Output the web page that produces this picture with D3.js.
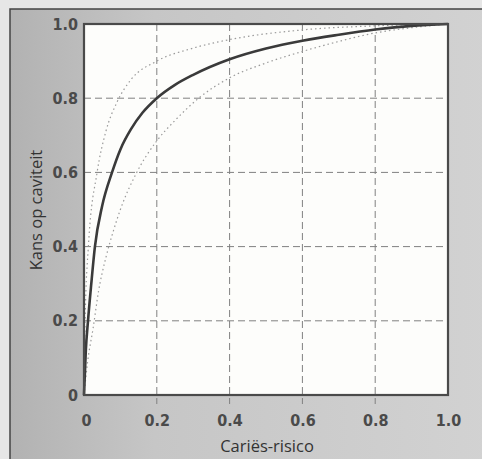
<!DOCTYPE html>
<html>
<head>
<meta charset="utf-8">
<script src="https://cdn.jsdelivr.net/npm/d3@7"></script>
<style>
  body { margin: 0; background: #e6e6e6; }
  svg { display: block; }
</style>
</head>
<body>
<svg id="chart" width="482" height="459"></svg>
<script>
// ROC-like curves: risk (x) vs chance of cavity (y)
var ticks = [0, 0.2, 0.4, 0.6, 0.8, 1.0];
var tickLabels = ["0", "0.2", "0.4", "0.6", "0.8", "1.0"];

var mainX = [0, 0.005, 0.011, 0.02, 0.03, 0.05, 0.077, 0.1, 0.13, 0.16, 0.2, 0.25, 0.3, 0.4, 0.5, 0.6, 0.7, 0.8, 0.9, 1];
var mainY = [0, 0.12, 0.2, 0.3, 0.4, 0.51, 0.6, 0.662, 0.718, 0.76, 0.8, 0.836, 0.863, 0.905, 0.934, 0.955, 0.971, 0.985, 0.995, 1];

var upperX = [0, 0.003, 0.012, 0.036, 0.06, 0.091, 0.129, 0.2, 0.3, 0.4, 0.6, 0.8, 1];
var upperY = [0, 0.2, 0.4, 0.6, 0.71, 0.79, 0.85, 0.9, 0.935, 0.958, 0.984, 0.995, 1];

var lowerX = [0, 0.01, 0.025, 0.04, 0.06, 0.08, 0.1, 0.145, 0.2, 0.25, 0.315, 0.4, 0.5, 0.6, 0.7, 0.8, 0.9, 1];
var lowerY = [0, 0.09, 0.18, 0.28, 0.37, 0.44, 0.5, 0.6, 0.685, 0.74, 0.8, 0.855, 0.895, 0.926, 0.953, 0.976, 0.99, 1];

function pairs(xs, ys) { return xs.map(function(d, i) { return {x: d, y: ys[i]}; }); }

var svg = d3.select("#chart");
var margin = {top: 24, left: 84, right: 34, bottom: 64};
var width = 482 - margin.left - margin.right,
    height = 459 - margin.top - margin.bottom;

var defs = svg.append("defs");
var grad = defs.append("linearGradient").attr("id", "bg").attr("x1", 0).attr("x2", 1).attr("y1", 0).attr("y2", 0);
grad.append("stop").attr("offset", "0%").attr("stop-color", "#b2b2b2");
grad.append("stop").attr("offset", "30%").attr("stop-color", "#c6c6c6");
grad.append("stop").attr("offset", "100%").attr("stop-color", "#d2d2d2");

// outer frame (photo crop: only left and top borders visible)
svg.append("rect").attr("x", 10).attr("y", 9).attr("width", 480).attr("height", 460)
    .attr("fill", "url(#bg)").attr("stroke", "#444").attr("stroke-width", 1.5);

var x = d3.scaleLinear().domain([0, 1]).range([0, width]);
var y = d3.scaleLinear().domain([0, 1]).range([height, 0]);

var g = svg.append("g").attr("transform", "translate(" + margin.left + "," + margin.top + ")");

g.append("rect").attr("width", width).attr("height", height).attr("fill", "#fdfdfb");

// grid
g.selectAll(".vgrid").data(ticks.slice(1, -1)).enter().append("line")
    .attr("x1", function(d) { return x(d); }).attr("x2", function(d) { return x(d); })
    .attr("y1", 0).attr("y2", height + 9)
    .attr("stroke", "#808080").attr("stroke-width", 1).attr("stroke-dasharray", "7,4");
g.selectAll(".hgrid").data(ticks.slice(1, -1)).enter().append("line")
    .attr("x1", 0).attr("x2", width)
    .attr("y1", function(d) { return y(d); }).attr("y2", function(d) { return y(d); })
    .attr("stroke", "#808080").attr("stroke-width", 1).attr("stroke-dasharray", "7,4");

var line = d3.line()
    .x(function(d) { return x(d.x); })
    .y(function(d) { return y(d.y); })
    .curve(d3.curveMonotoneX);

g.append("path").datum(pairs(upperX, upperY)).attr("d", line)
    .attr("fill", "none").attr("stroke", "#9a9a9a").attr("stroke-width", 1.2).attr("stroke-dasharray", "1.5,3");
g.append("path").datum(pairs(lowerX, lowerY)).attr("d", line)
    .attr("fill", "none").attr("stroke", "#9a9a9a").attr("stroke-width", 1.2).attr("stroke-dasharray", "1.5,3");
g.append("path").datum(pairs(mainX, mainY)).attr("d", line)
    .attr("fill", "none").attr("stroke", "#3a3a3a").attr("stroke-width", 2.6);

g.append("rect").attr("width", width).attr("height", height)
    .attr("fill", "none").attr("stroke", "#4a4a4a").attr("stroke-width", 2.2);

var tickFont = "'Liberation Sans Narrow', 'DejaVu Sans Condensed', sans-serif";

var xAxis = d3.axisBottom(x).tickValues(ticks)
    .tickFormat(function(d, i) { return tickLabels[i]; }).tickSize(0).tickPadding(20);
var yAxis = d3.axisLeft(y).tickValues(ticks)
    .tickFormat(function(d, i) { return tickLabels[i]; }).tickSize(0).tickPadding(6);

var xa = g.append("g").attr("transform", "translate(0," + height + ")").call(xAxis);
var ya = g.append("g").call(yAxis);
[xa, ya].forEach(function(a) {
    a.select(".domain").remove();
    a.selectAll("text").attr("font-family", tickFont).attr("font-weight", "bold")
        .attr("font-size", 16).attr("fill", "#4a4a4a");
});
xa.selectAll("text").attr("dx", function(d) { return d === 0 ? 2 : 0; });

svg.append("text").attr("x", margin.left + width / 2 + 1).attr("y", 452)
    .attr("text-anchor", "middle").attr("font-family", "'Open Sans', sans-serif")
    .attr("font-size", 16.5).attr("fill", "#333").text("Cariës-risico");

svg.append("text").attr("transform", "translate(42,210) rotate(-90)")
    .attr("text-anchor", "middle").attr("font-family", "'Open Sans', sans-serif")
    .attr("font-size", 16.5).attr("fill", "#333").text("Kans op caviteit");
</script>
</body>
</html>
